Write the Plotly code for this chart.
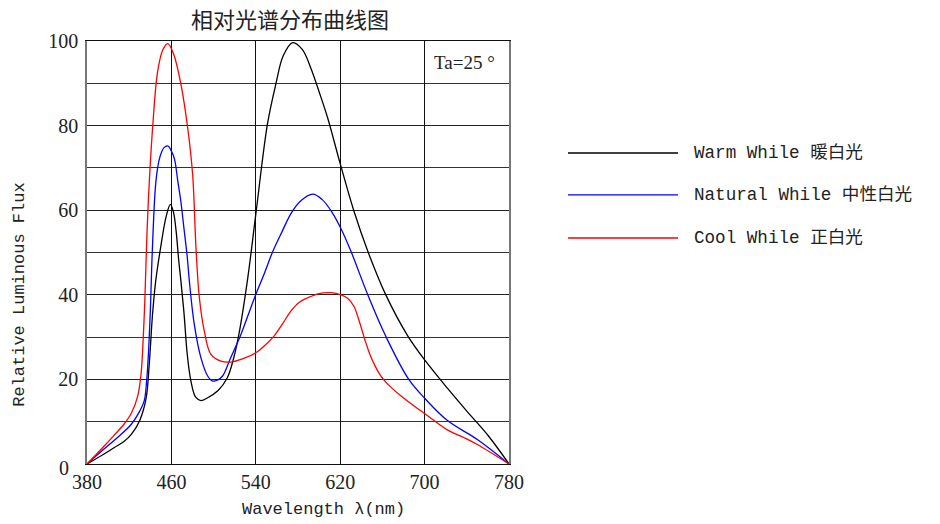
import plotly.graph_objects as go

# ---- data ----
warm_wl = [380, 395, 406, 415, 422, 430, 436, 439, 442, 445, 450, 455, 459, 462, 464.5, 467, 469, 472, 475, 478.5,
           483, 488, 494, 504, 513, 519, 524, 532, 540, 551, 559, 566, 575, 584, 592, 600, 608, 620, 633, 646,
           663, 684, 701, 722, 740, 760, 780]
warm_val = [0, 2.2, 3.9, 5.3, 7, 10.3, 15.5, 23.6, 35, 43, 51.5, 58.5, 61.4, 59.5, 55, 48, 43.3, 35.5, 26, 19.6,
            15.8, 15, 15.6, 17.3, 20.4, 25, 30.7, 43.3, 59, 80.3, 89.8, 96.5, 99.6, 98, 93.7, 88, 81.9, 71, 59.8, 50.4,
            40.1, 30.3, 24.3, 17.8, 12.5, 6.8, 0]

natural_wl = [380, 395, 410, 422, 430, 434.3, 436.5, 438, 440, 442, 445.4, 449, 453, 456.5, 460, 463, 466, 469, 472,
              475, 477, 481.7, 488, 494.4, 499, 504, 508.5, 516, 526, 533, 540, 548, 556, 565, 574, 583, 594, 603,
              612, 621, 630, 646, 663, 685, 701, 722, 750, 780]
natural_val = [0, 3.3, 6.5, 9.4, 12.5, 15, 19.6, 25, 36, 51, 67, 72.5, 74.8, 75.2, 74, 72, 67, 62, 55.5,
               49, 43.3, 33, 25.1, 20.8, 19.6, 19.9, 20.8, 25, 30.7, 35.4, 40.1, 45, 50.2, 55, 59.5, 62.3, 63.8, 62.5,
               59.6, 55.5, 50.4, 40.1, 30.3, 20, 15.3, 10.2, 5.8, 0]

cool_wl = [380, 395, 405, 415, 422, 428, 431.2, 433.6, 435, 436.5, 438.5, 442.2, 447, 452, 456.5, 462, 469, 475.4,
           480.1, 483.3, 486.5, 491.2, 497.5, 507, 516.5, 528, 540, 548, 557.5, 565, 573.4, 581, 589.2, 600, 611.3,
           620.8, 627, 633, 638, 643, 648, 653, 658, 663, 670, 678, 690, 701.3, 722, 737.6, 750, 780]
cool_val = [0, 3.9, 6.6, 9.4, 12, 16, 21.2, 31.4, 40, 52, 64, 79.5, 92.9, 98, 99.4, 97, 89.8, 79.5,
            68.5, 51.1, 39.3, 31.4, 25.9, 24.3, 24.1, 24.9, 26.3, 27.9, 30.3, 33, 36.2, 38.2, 39.3, 40.3, 40.5,
            40, 39.2, 37.3, 33.8, 29.7, 26, 23.2, 21, 19.4, 17.7, 16, 13.7, 11.7, 8, 6.2, 4.6, 0]

series_names = ["Warm While 暖白光", "Natural While 中性白光", "Cool While 正白光"]
series_colors = ["#000000", "#0000ff", "#ff0000"]

x_ticks = [380, 460, 540, 620, 700, 780]
y_ticks = [20, 40, 60, 80, 100]
y_zero_label = "0"

title_text = "相对光谱分布曲线图"
x_title = "Wavelength λ(nm)"
y_title = "Relative Luminous Flux"
note_text = "Ta=25 °"

MONO = "Liberation Mono, Noto Sans CJK SC, monospace"
SERIF = "Liberation Serif, Noto Sans CJK SC, serif"

fig = go.Figure()
for wl, val, name, col in [(warm_wl, warm_val, series_names[0], series_colors[0]),
                            (natural_wl, natural_val, series_names[1], series_colors[1]),
                            (cool_wl, cool_val, series_names[2], series_colors[2])]:
    fig.add_trace(go.Scatter(x=wl, y=val, mode="lines", name=name,
                             line=dict(color=col, width=1.3, shape="spline", smoothing=1.0),
                             showlegend=False, hoverinfo="skip"))

# manual legend (long line samples like the reference)
leg_y = [0.7352, 0.636, 0.5343]
shapes = []
annotations = []
for i, (name, col) in enumerate(zip(series_names, series_colors)):
    shapes.append(dict(type="line", xref="paper", yref="paper", x0=1.1398, x1=1.4005,
                       y0=leg_y[i], y1=leg_y[i], line=dict(color=col, width=1.3)))
    annotations.append(dict(xref="paper", yref="paper", x=1.434, y=leg_y[i], text=name,
                            showarrow=False, xanchor="left", yanchor="middle",
                            font=dict(family=MONO, size=17.6, color="#222")))

annotations.append(dict(xref="paper", yref="paper", x=0.482, y=1.0, yshift=21, text=title_text,
                        showarrow=False, xanchor="center", yanchor="middle",
                        font=dict(family=SERIF, size=22, color="#222")))
annotations.append(dict(xref="paper", yref="paper", x=0.895, y=0.95, text=note_text,
                        showarrow=False, xanchor="center", yanchor="middle",
                        font=dict(family=SERIF, size=19, color="#222")))
annotations.append(dict(xref="paper", yref="paper", x=0.56, y=0, yshift=-45, text=x_title,
                        showarrow=False, xanchor="center", yanchor="middle",
                        font=dict(family=MONO, size=17, color="#222")))
annotations.append(dict(xref="paper", yref="paper", x=0, xshift=-67, y=0.4, text=y_title,
                        showarrow=False, xanchor="center", yanchor="middle", textangle=-90,
                        font=dict(family=MONO, size=17, color="#222")))
# the "0" of the y axis sits a little lower-left in the reference
annotations.append(dict(xref="paper", yref="y", x=0, y=0, xshift=-23, yshift=-4, text=y_zero_label,
                        showarrow=False, xanchor="center", yanchor="middle",
                        font=dict(family=SERIF, size=20, color="#222")))

# page body has a default margin; compensate so the plot sits where the reference's does
fig.update_layout(
    width=925, height=510,
    margin=dict(l=79, r=424, t=33, b=54),
    paper_bgcolor="white", plot_bgcolor="white",
    shapes=shapes, annotations=annotations,
    xaxis=dict(range=[380, 780], tickvals=x_ticks, ticktext=[str(v) for v in x_ticks],
               showgrid=True, gridcolor="#111", gridwidth=1,
               showline=True, linecolor="#111", linewidth=1, mirror=True,
               zeroline=False, ticks="", tickfont=dict(family=SERIF, size=20, color="#222")),
    yaxis=dict(range=[0, 100], tickvals=y_ticks, ticktext=[str(v) for v in y_ticks],
               showgrid=True, gridcolor="#222", gridwidth=1,
               minor=dict(dtick=10, tick0=0, showgrid=True, gridcolor="#333", gridwidth=1),
               showline=True, linecolor="#777", linewidth=1.5, mirror=True,
               zeroline=False, ticks="", ticklabelstandoff=3,
               tickfont=dict(family=SERIF, size=20, color="#222")),
)

fig.write_html("out.html")
